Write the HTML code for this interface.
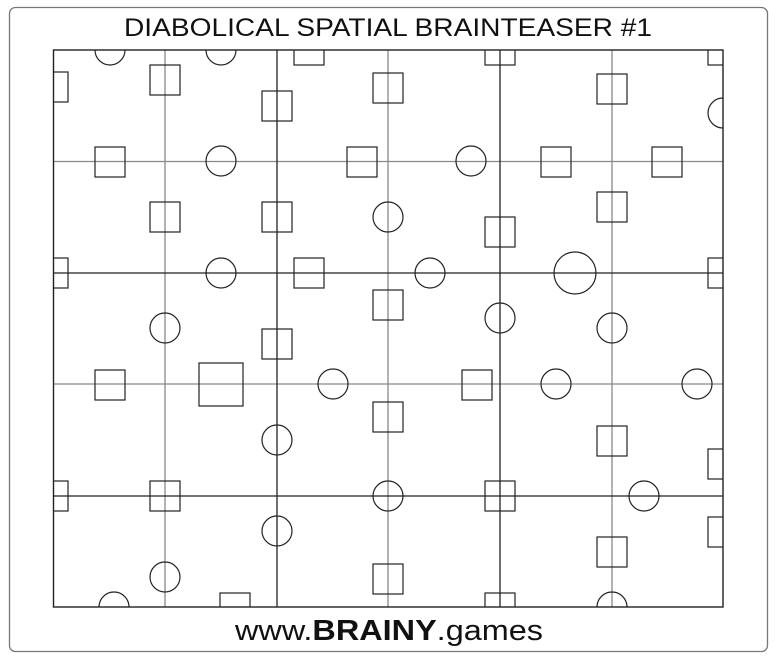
<!DOCTYPE html>
<html><head><style>html,body{margin:0;padding:0;background:#fff;}svg{display:block}</style></head>
<body>
<svg width="777" height="661" viewBox="0 0 777 661" xmlns="http://www.w3.org/2000/svg">
<rect x="9.5" y="7.5" width="758" height="644" rx="6" fill="#fff" stroke="#777" stroke-width="1.3"/>
<text x="388" y="36" text-anchor="middle" font-family="Liberation Sans, sans-serif" font-size="25" textLength="528" lengthAdjust="spacingAndGlyphs" fill="#111">DIABOLICAL SPATIAL BRAINTEASER #1</text>
<text x="389" y="640" text-anchor="middle" font-family="Liberation Sans, sans-serif" font-size="29" textLength="308" lengthAdjust="spacingAndGlyphs" fill="#111">www.<tspan font-weight="bold">BRAINY</tspan>.games</text>
<defs><clipPath id="c"><rect x="53.5" y="50" width="669.5" height="557"/></clipPath></defs>
<g stroke="#888" stroke-width="1.3">
<line x1="165" y1="50" x2="165" y2="607"/><line x1="388" y1="50" x2="388" y2="607"/><line x1="612" y1="50" x2="612" y2="607"/>
<line x1="53.5" y1="161.5" x2="723" y2="161.5"/><line x1="53.5" y1="384" x2="723" y2="384"/>
</g>
<g stroke="#222" stroke-width="1.3">
<line x1="277" y1="50" x2="277" y2="607"/><line x1="500" y1="50" x2="500" y2="607"/>
<line x1="53.5" y1="273" x2="723" y2="273"/><line x1="53.5" y1="496" x2="723" y2="496"/>
</g>
<g clip-path="url(#c)" fill="none" stroke="#222" stroke-width="1.2">
<circle cx="110" cy="50" r="15"/><circle cx="221" cy="50" r="15"/>
<rect x="294" y="35" width="30" height="30"/><rect x="485" y="35" width="30" height="30"/><rect x="708" y="35" width="30" height="30"/>
<rect x="38" y="72" width="30" height="30"/>
<rect x="150" y="65" width="30" height="30"/><rect x="262" y="91" width="30" height="30"/>
<rect x="373" y="73" width="30" height="30"/><rect x="597" y="74" width="30" height="30"/>
<circle cx="723" cy="113" r="15"/>
<rect x="95" y="147" width="30" height="30"/><circle cx="221" cy="161" r="15"/>
<rect x="347" y="147" width="30" height="30"/><circle cx="471" cy="161" r="15"/>
<rect x="541" y="147" width="30" height="30"/><rect x="652" y="147" width="30" height="30"/>
<rect x="150" y="202" width="30" height="30"/><rect x="262" y="202" width="30" height="30"/>
<circle cx="388" cy="217" r="15"/><rect x="485" y="217" width="30" height="30"/>
<rect x="597" y="192" width="30" height="30"/>
<rect x="38" y="258" width="30" height="30"/><circle cx="221" cy="273" r="15"/>
<rect x="294" y="258" width="30" height="30"/><circle cx="430" cy="273" r="15"/>
<circle cx="575" cy="273" r="21"/><rect x="708" y="258" width="30" height="30"/>
<circle cx="165" cy="328" r="15"/><rect x="262" y="329" width="30" height="30"/>
<rect x="373" y="290" width="30" height="30"/><circle cx="500" cy="318" r="15"/>
<circle cx="612" cy="328" r="15"/>
<rect x="95" y="370" width="30" height="30"/><rect x="199" y="363" width="44" height="43"/>
<circle cx="333" cy="384" r="15"/><rect x="462" y="370" width="30" height="30"/>
<circle cx="556" cy="384" r="15"/><circle cx="697" cy="384" r="15"/>
<circle cx="277" cy="440" r="15"/><rect x="373" y="402" width="30" height="30"/>
<rect x="597" y="426" width="30" height="30"/><rect x="708" y="449" width="30" height="30"/>
<rect x="38" y="481" width="30" height="30"/><rect x="150" y="481" width="30" height="30"/>
<circle cx="388" cy="496" r="15"/><rect x="485" y="481" width="30" height="30"/>
<circle cx="644" cy="496" r="15"/>
<circle cx="277" cy="531" r="15"/><rect x="708" y="517" width="30" height="30"/>
<circle cx="165" cy="577" r="15"/><rect x="373" y="564" width="30" height="30"/>
<rect x="597" y="537" width="30" height="30"/>
<circle cx="114" cy="607" r="15"/><rect x="220" y="593" width="30" height="30"/>
<rect x="485" y="593" width="30" height="30"/><circle cx="612" cy="607" r="15"/>
</g>
<rect x="53.5" y="50" width="669.5" height="557" fill="none" stroke="#222" stroke-width="1.4"/>
</svg>
</body></html>
